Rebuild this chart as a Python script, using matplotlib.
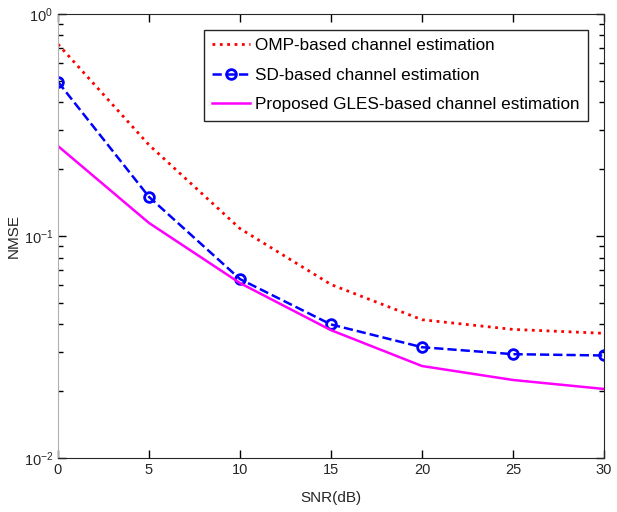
import matplotlib
matplotlib.use("Agg")
import matplotlib.pyplot as plt

plt.rcParams['font.family'] = ['Liberation Sans', 'DejaVu Sans']
plt.rcParams['axes.unicode_minus'] = False

snr = [0, 5, 10, 15, 20, 25, 30]
nmse_omp = [0.73, 0.257, 0.108, 0.0605, 0.042, 0.038, 0.0365]
nmse_sd = [0.494, 0.150, 0.064, 0.040, 0.0316, 0.0294, 0.029]
nmse_gles = [0.254, 0.1145, 0.0614, 0.0377, 0.026, 0.0225, 0.0205]

fig = plt.figure(figsize=(6.17, 5.12), dpi=100)
ax = fig.add_axes([0.094, 0.105, 0.885, 0.868])

ax.semilogy(snr, nmse_omp, color='red', linestyle=':', linewidth=2,
            label='OMP-based channel estimation')
ax.semilogy(snr, nmse_sd, color='blue', linestyle='--', linewidth=1.8,
            marker='o', markersize=7, markerfacecolor='none', markeredgewidth=2,
            label='SD-based channel estimation')
ax.semilogy(snr, nmse_gles, color='magenta', linestyle='-', linewidth=1.8,
            label='Proposed GLES-based channel estimation')

ax.set_xlim(0, 30)
ax.set_ylim(1e-2, 1e0)
ax.set_xticks(snr)
ax.tick_params(which='both', direction='in', top=True, right=True,
               labelsize=10.5, labelcolor='#262626', width=1)
ax.tick_params(which='major', length=6)
ax.tick_params(which='minor', length=3.5)
for s in ax.spines.values():
    s.set_color('#262626')
ax.spines['left'].set_color('#b0b0b0')

ax.set_xlabel('SNR(dB)', fontsize=11, color='#262626', labelpad=10)
ax.set_ylabel('NMSE', fontsize=11, color='#262626', labelpad=2)

leg = ax.legend(loc='upper right', fancybox=False, framealpha=1,
                prop={'size': 12.3},
                edgecolor='#262626', bbox_to_anchor=(0.971, 0.964),
                borderaxespad=0, handlelength=2.2,
                handletextpad=0.3, labelspacing=0.85, borderpad=0.5)
leg.get_frame().set_linewidth(1)

fig.savefig('out.png', dpi=100)
